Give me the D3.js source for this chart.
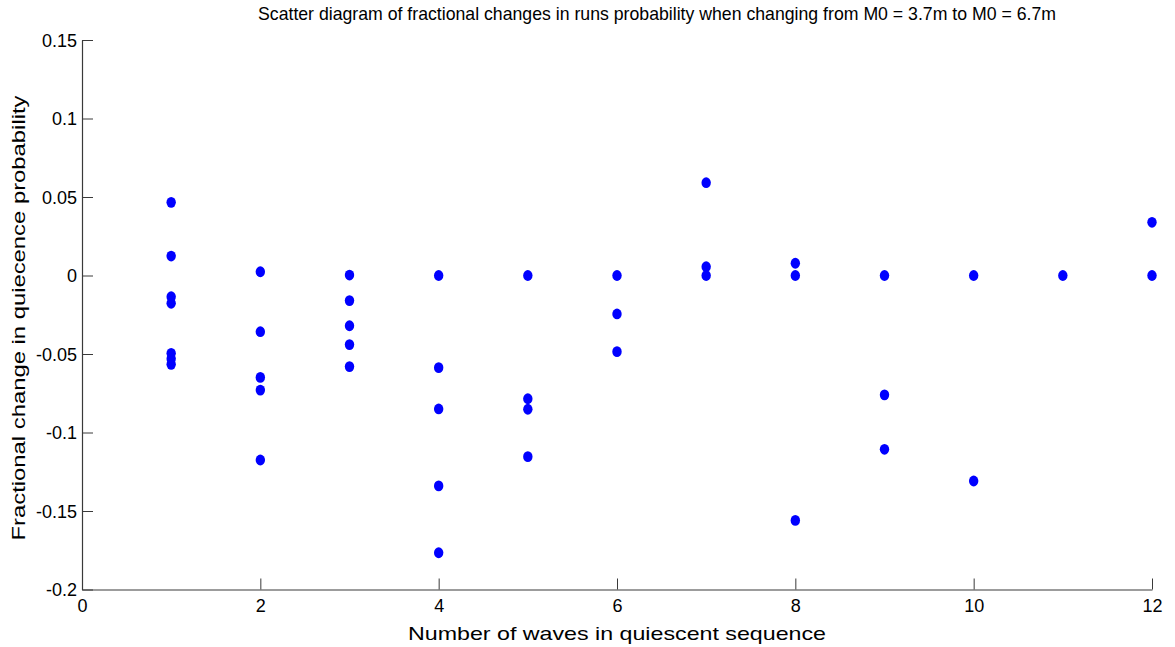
<!DOCTYPE html>
<html>
<head>
<meta charset="utf-8">
<script src="https://cdn.jsdelivr.net/npm/d3@7"></script>
<style>
  body { margin: 0; background: #fff; }
  text { font-family: "Liberation Sans", Arial, sans-serif; fill: #000; }
</style>
</head>
<body>
<svg id="chart" width="1175" height="647"></svg>
<script>
// waves in quiescent sequence, and the fractional changes seen for each
var waves = [1, 2, 3, 4, 5, 6, 7, 8, 9, 10, 11, 12];
var changes = [
  [0.0466, 0.0124, -0.0135, -0.0177, -0.0496, -0.053, -0.0566],
  [0.0024, -0.0358, -0.0649, -0.073, -0.1175],
  [0.0003, -0.016, -0.032, -0.044, -0.058],
  [0, -0.0587, -0.085, -0.134, -0.1766],
  [0, -0.0785, -0.0852, -0.1154],
  [0, -0.0245, -0.0485],
  [0.0591, 0.0056, 0],
  [0.0078, 0, -0.156],
  [0, -0.076, -0.1107],
  [0, -0.1309],
  [0],
  [0.0339, 0]
];
var xTicks = [0, 2, 4, 6, 8, 10, 12];
var yTicks = [-0.2, -0.15, -0.1, -0.05, 0, 0.05, 0.1, 0.15];

var svg = d3.select('#chart');
var plotL = 82, plotR = 1152, plotT = 40, plotB = 589.5;

var x = d3.scaleLinear().domain([0, 12]).range([plotL, plotR]);
var y = d3.scaleLinear().domain([-0.2, 0.15]).range([plotB, plotT]);

var points = [];
waves.forEach(function (w, i) {
  changes[i].forEach(function (v) { points.push({ w: w, v: v }); });
});

/* axes: ticks point inward, no box */
var xAxis = d3.axisBottom(x).tickValues(xTicks).tickSizeInner(-11).tickSizeOuter(0)
  .tickFormat(d3.format('d'));
var yAxis = d3.axisLeft(y).tickValues(yTicks).tickSizeInner(-11).tickSizeOuter(0)
  .tickFormat(function (d) { return d === 0 ? '0' : String(+d.toFixed(2)); });

var gx = svg.append('g').attr('transform', 'translate(0,' + plotB + ')').call(xAxis);
var gy = svg.append('g').attr('transform', 'translate(' + plotL + ',0)').call(yAxis);

[gx, gy].forEach(function (g) {
  g.select('.domain').attr('stroke', '#3a3a3a').attr('stroke-width', 1.2);
  g.selectAll('.tick line').attr('stroke', '#3a3a3a').attr('stroke-width', 1);
  g.selectAll('.tick text').style('font-size', '18px')
    .style('font-family', '"Liberation Sans", Arial, sans-serif').attr('fill', '#000');
});
gy.selectAll('.tick text').attr('x', -5).attr('dy', '0.35em');
gx.selectAll('.tick text').attr('y', 10).attr('dy', '0.71em');

svg.append('g').selectAll('ellipse')
  .data(points)
  .enter().append('ellipse')
  .attr('cx', function (d) { return x(d.w); })
  .attr('cy', function (d) { return y(d.v); })
  .attr('rx', 4.7)
  .attr('ry', 5.4)
  .attr('fill', '#0000ff');

svg.append('text')
  .attr('x', 657).attr('y', 20)
  .attr('text-anchor', 'middle')
  .attr('textLength', 798).attr('lengthAdjust', 'spacingAndGlyphs')
  .style('font-size', '19px')
  .text('Scatter diagram of fractional changes in runs probability when changing from M0 = 3.7m to M0 = 6.7m');

svg.append('text')
  .attr('x', 617).attr('y', 640)
  .attr('text-anchor', 'middle')
  .attr('textLength', 418).attr('lengthAdjust', 'spacingAndGlyphs')
  .style('font-size', '19px')
  .text('Number of waves in quiescent sequence');

svg.append('text')
  .attr('transform', 'translate(25,318) rotate(-90)')
  .attr('text-anchor', 'middle')
  .attr('textLength', 445).attr('lengthAdjust', 'spacingAndGlyphs')
  .style('font-size', '19px')
  .text('Fractional change in quiecence probability');
</script>
</body>
</html>
